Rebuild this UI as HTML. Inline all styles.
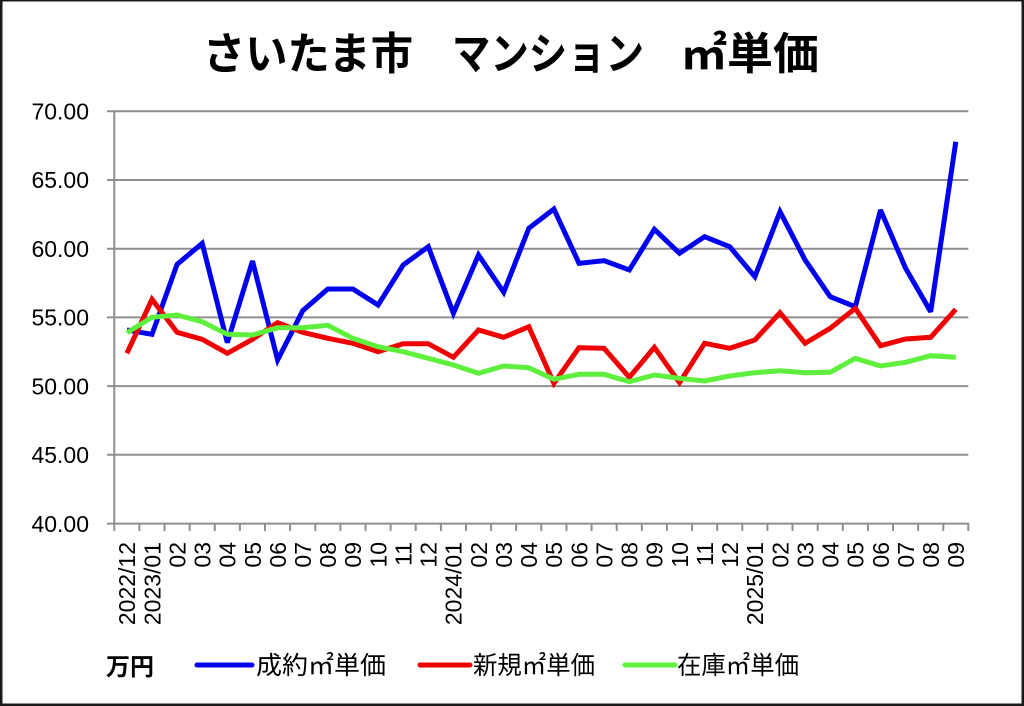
<!DOCTYPE html>
<html>
<head>
<meta charset="utf-8">
<style>
html,body{margin:0;padding:0;background:#fff;}
svg{display:block;}
.tk{font-family:"Liberation Sans","DejaVu Sans",sans-serif;font-size:23px;fill:#000;}
.jp{font-family:"Liberation Sans","Noto Sans CJK JP",sans-serif;fill:#000;}
</style>
</head>
<body>
<svg width="1024" height="706" viewBox="0 0 1024 706" xmlns="http://www.w3.org/2000/svg">
<rect x="0" y="0" width="1024" height="706" fill="#fff"/>
<!-- frame -->
<rect x="0" y="0" width="2.5" height="706" fill="#1a1a1a"/>
<rect x="0" y="0" width="1024" height="1.5" fill="#1a1a1a"/>
<rect x="1021.5" y="0" width="2.5" height="706" fill="#1a1a1a"/>
<rect x="0" y="703.5" width="1024" height="2.5" fill="#1a1a1a"/>

<!-- title -->
<text class="jp" x="203" y="69" font-size="44" font-weight="bold" textLength="210" lengthAdjust="spacingAndGlyphs">さいたま市</text>
<text class="jp" x="452" y="69" font-size="44" font-weight="bold" textLength="192" lengthAdjust="spacingAndGlyphs">マンション</text>
<text class="jp" x="681" y="69" font-size="44" font-weight="bold" textLength="138" lengthAdjust="spacingAndGlyphs">㎡単価</text>

<!-- gridlines -->
<g stroke="#8f8f8f" stroke-width="2" fill="none">
<line x1="107" y1="111.3" x2="968.3" y2="111.3"/>
<line x1="107" y1="180" x2="968.3" y2="180"/>
<line x1="107" y1="248.7" x2="968.3" y2="248.7"/>
<line x1="107" y1="317.4" x2="968.3" y2="317.4"/>
<line x1="107" y1="386.1" x2="968.3" y2="386.1"/>
<line x1="107" y1="454.8" x2="968.3" y2="454.8"/>
<line x1="107" y1="523.6" x2="968.3" y2="523.6"/>
<line x1="114.3" y1="111.3" x2="114.3" y2="531"/>
</g>
<!-- x ticks -->
<g stroke="#8f8f8f" stroke-width="2">
<line x1="139.4" y1="523" x2="139.4" y2="531"/><line x1="164.5" y1="523" x2="164.5" y2="531"/><line x1="189.7" y1="523" x2="189.7" y2="531"/><line x1="214.8" y1="523" x2="214.8" y2="531"/><line x1="239.9" y1="523" x2="239.9" y2="531"/><line x1="265.0" y1="523" x2="265.0" y2="531"/><line x1="290.1" y1="523" x2="290.1" y2="531"/><line x1="315.3" y1="523" x2="315.3" y2="531"/><line x1="340.4" y1="523" x2="340.4" y2="531"/><line x1="365.5" y1="523" x2="365.5" y2="531"/><line x1="390.6" y1="523" x2="390.6" y2="531"/><line x1="415.7" y1="523" x2="415.7" y2="531"/><line x1="440.9" y1="523" x2="440.9" y2="531"/><line x1="466.0" y1="523" x2="466.0" y2="531"/><line x1="491.1" y1="523" x2="491.1" y2="531"/><line x1="516.2" y1="523" x2="516.2" y2="531"/><line x1="541.3" y1="523" x2="541.3" y2="531"/><line x1="566.5" y1="523" x2="566.5" y2="531"/><line x1="591.6" y1="523" x2="591.6" y2="531"/><line x1="616.7" y1="523" x2="616.7" y2="531"/><line x1="641.8" y1="523" x2="641.8" y2="531"/><line x1="666.9" y1="523" x2="666.9" y2="531"/><line x1="692.1" y1="523" x2="692.1" y2="531"/><line x1="717.2" y1="523" x2="717.2" y2="531"/><line x1="742.3" y1="523" x2="742.3" y2="531"/><line x1="767.4" y1="523" x2="767.4" y2="531"/><line x1="792.5" y1="523" x2="792.5" y2="531"/><line x1="817.7" y1="523" x2="817.7" y2="531"/><line x1="842.8" y1="523" x2="842.8" y2="531"/><line x1="867.9" y1="523" x2="867.9" y2="531"/><line x1="893.0" y1="523" x2="893.0" y2="531"/><line x1="918.1" y1="523" x2="918.1" y2="531"/><line x1="943.3" y1="523" x2="943.3" y2="531"/><line x1="968.3" y1="523" x2="968.3" y2="531"/>
</g>

<!-- y labels -->
<g class="tk" text-anchor="end">
<text x="89" y="119.5">70.00</text>
<text x="89" y="188.2">65.00</text>
<text x="89" y="256.9">60.00</text>
<text x="89" y="325.6">55.00</text>
<text x="89" y="394.3">50.00</text>
<text x="89" y="463">45.00</text>
<text x="89" y="531.8">40.00</text>
</g>

<!-- x labels -->
<g class="tk" text-anchor="end">
<text transform="translate(135.2,542) rotate(-90)">2022/12</text>
<text transform="translate(160.3,542) rotate(-90)">2023/01</text>
<text transform="translate(185.4,542) rotate(-90)">02</text>
<text transform="translate(210.5,542) rotate(-90)">03</text>
<text transform="translate(235.6,542) rotate(-90)">04</text>
<text transform="translate(260.8,542) rotate(-90)">05</text>
<text transform="translate(285.9,542) rotate(-90)">06</text>
<text transform="translate(311.0,542) rotate(-90)">07</text>
<text transform="translate(336.1,542) rotate(-90)">08</text>
<text transform="translate(361.2,542) rotate(-90)">09</text>
<text transform="translate(386.4,542) rotate(-90)">10</text>
<text transform="translate(411.5,542) rotate(-90)">11</text>
<text transform="translate(436.6,542) rotate(-90)">12</text>
<text transform="translate(461.7,542) rotate(-90)">2024/01</text>
<text transform="translate(486.8,542) rotate(-90)">02</text>
<text transform="translate(512.0,542) rotate(-90)">03</text>
<text transform="translate(537.1,542) rotate(-90)">04</text>
<text transform="translate(562.2,542) rotate(-90)">05</text>
<text transform="translate(587.3,542) rotate(-90)">06</text>
<text transform="translate(612.4,542) rotate(-90)">07</text>
<text transform="translate(637.6,542) rotate(-90)">08</text>
<text transform="translate(662.7,542) rotate(-90)">09</text>
<text transform="translate(687.8,542) rotate(-90)">10</text>
<text transform="translate(712.9,542) rotate(-90)">11</text>
<text transform="translate(738.0,542) rotate(-90)">12</text>
<text transform="translate(763.2,542) rotate(-90)">2025/01</text>
<text transform="translate(788.3,542) rotate(-90)">02</text>
<text transform="translate(813.4,542) rotate(-90)">03</text>
<text transform="translate(838.5,542) rotate(-90)">04</text>
<text transform="translate(863.6,542) rotate(-90)">05</text>
<text transform="translate(888.8,542) rotate(-90)">06</text>
<text transform="translate(913.9,542) rotate(-90)">07</text>
<text transform="translate(939.0,542) rotate(-90)">08</text>
<text transform="translate(964.1,542) rotate(-90)">09</text>
</g>

<!-- series -->
<g fill="none" stroke-width="5" stroke-linejoin="miter" stroke-miterlimit="3" stroke-linecap="butt">
<polyline stroke="#0000f0" points="126.9,330 152.0,334.3 177.1,264.3 202.2,243.3 227.3,342.7 252.5,261 277.6,360 302.7,310.7 327.8,289 352.9,289 378.1,305 403.2,265 428.3,246.7 453.4,313.3 478.5,255 503.7,292.3 528.8,228.3 553.9,209 579.0,263.3 604.1,260.7 629.3,270 654.4,229.3 679.5,253.3 704.6,236.7 729.7,246.7 754.9,276.7 780.0,211.7 805.1,260 830.2,296.7 855.3,306.7 880.5,210 905.6,268.3 930.7,311.7 955.8,141.7"/>
<polyline stroke="#f00000" points="126.9,353.3 152.0,299.3 177.1,332.3 202.2,339.3 227.3,353.3 252.5,339.3 277.6,322.7 302.7,332.3 327.8,338.3 352.9,343.3 378.1,351.7 403.2,343.7 428.3,343.7 453.4,357.3 478.5,330 503.7,337.3 528.8,326.7 553.9,383.3 579.0,347.7 604.1,348.3 629.3,377.3 654.4,347.3 679.5,382.7 704.6,343.3 729.7,348.3 754.9,340 780.0,312.7 805.1,343.3 830.2,328.3 855.3,308.3 880.5,345.7 905.6,339 930.7,337.3 955.8,309.3"/>
<polyline stroke="#5ef03c" points="126.9,332.7 152.0,317.3 177.1,315 202.2,321.7 227.3,334.3 252.5,335 277.6,327.7 302.7,327.7 327.8,325.3 352.9,338.3 378.1,346.7 403.2,351.7 428.3,358.3 453.4,365 478.5,373.3 503.7,366 528.8,367.7 553.9,379.3 579.0,374.3 604.1,374.3 629.3,381.7 654.4,375 679.5,378.3 704.6,381 729.7,376 754.9,372.7 780.0,370.7 805.1,372.7 830.2,372.3 855.3,358.3 880.5,366 905.6,362.3 930.7,355.7 955.8,357.3"/>
</g>

<!-- legend -->
<text class="jp" x="106" y="675" font-size="24" font-weight="bold" textLength="48" lengthAdjust="spacingAndGlyphs">万円</text>
<line x1="197" y1="665" x2="252" y2="665" stroke="#0000f0" stroke-width="5" stroke-linecap="round"/>
<text class="jp" x="256" y="674" font-size="25" textLength="130" lengthAdjust="spacingAndGlyphs">成約㎡単価</text>
<line x1="420" y1="665" x2="470" y2="665" stroke="#f00000" stroke-width="5" stroke-linecap="round"/>
<text class="jp" x="473" y="674" font-size="25" textLength="122" lengthAdjust="spacingAndGlyphs">新規㎡単価</text>
<line x1="625" y1="665" x2="675" y2="665" stroke="#5ef03c" stroke-width="5" stroke-linecap="round"/>
<text class="jp" x="677" y="674" font-size="25" textLength="122" lengthAdjust="spacingAndGlyphs">在庫㎡単価</text>
</svg>
</body>
</html>
